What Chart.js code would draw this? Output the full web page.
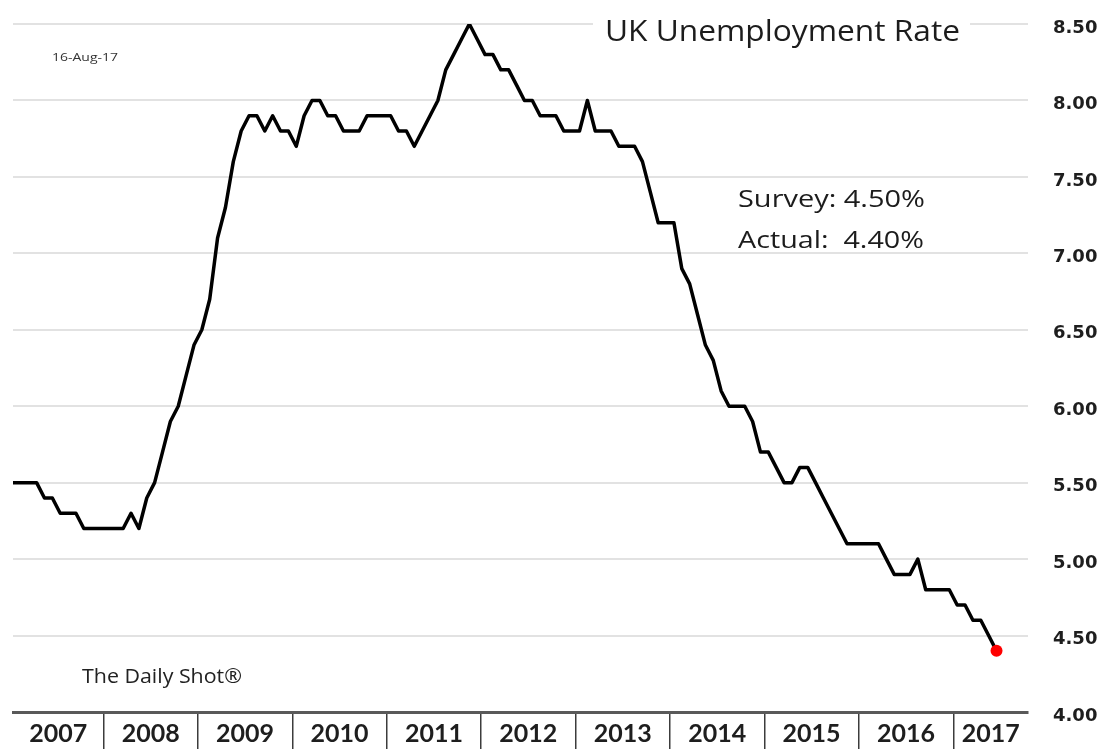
<!DOCTYPE html>
<html>
<head>
<meta charset="utf-8">
<title>UK Unemployment Rate</title>
<script src="https://cdn.jsdelivr.net/npm/chart.js@4.4.1/dist/chart.umd.min.js"></script>
<style>
  html, body { margin: 0; padding: 0; background: #ffffff; }
  #wrap { width: 1104px; height: 749px; }
</style>
</head>
<body>
<div id="wrap"><canvas id="chart" width="1104" height="749"></canvas></div>
<script>
// Year labels along the bottom axis
const years = ['2007', '2008', '2009', '2010', '2011', '2012', '2013', '2014', '2015', '2016', '2017'];

// ILO unemployment rate (%), monthly readings, Jan 2007 – Jun 2017
const rate2007 = [5.5, 5.5, 5.5, 5.5, 5.4, 5.4, 5.3, 5.3, 5.3, 5.2, 5.2, 5.2];
const rate2008 = [5.2, 5.2, 5.2, 5.3, 5.2, 5.4, 5.5, 5.7, 5.9, 6.0, 6.2, 6.4];
const rate2009 = [6.5, 6.7, 7.1, 7.3, 7.6, 7.8, 7.9, 7.9, 7.8, 7.9, 7.8, 7.8];
const rate2010 = [7.7, 7.9, 8.0, 8.0, 7.9, 7.9, 7.8, 7.8, 7.8, 7.9, 7.9, 7.9];
const rate2011 = [7.9, 7.8, 7.8, 7.7, 7.8, 7.9, 8.0, 8.2, 8.3, 8.4, 8.5, 8.4];
const rate2012 = [8.3, 8.3, 8.2, 8.2, 8.1, 8.0, 8.0, 7.9, 7.9, 7.9, 7.8, 7.8];
const rate2013 = [7.8, 8.0, 7.8, 7.8, 7.8, 7.7, 7.7, 7.7, 7.6, 7.4, 7.2, 7.2];
const rate2014 = [7.2, 6.9, 6.8, 6.6, 6.4, 6.3, 6.1, 6.0, 6.0, 6.0, 5.9, 5.7];
const rate2015 = [5.7, 5.6, 5.5, 5.5, 5.6, 5.6, 5.5, 5.4, 5.3, 5.2, 5.1, 5.1];
const rate2016 = [5.1, 5.1, 5.1, 5.0, 4.9, 4.9, 4.9, 5.0, 4.8, 4.8, 4.8, 4.8];
const rate2017 = [4.7, 4.7, 4.6, 4.6, 4.5, 4.4];

// Latest release
const surveyRate = 4.50;
const actualRate = 4.40;
const releaseDate = '16-Aug-17';

const monthly = [].concat(rate2007, rate2008, rate2009, rate2010, rate2011, rate2012,
                          rate2013, rate2014, rate2015, rate2016, rate2017);
const lastIndex = monthly.length - 1;

// Each reading sits in the middle of its month; months counted from Jan 2007
const points = monthly.map((v, i) => ({ x: i + 0.5, y: v }));

const X_MIN = 0.5;    // first reading
const X_MAX = 129.5;  // a few months of room after the last reading

// Year boundaries (separator marks) and the centre of each visible year block (labels)
const boundaries = years.slice(1).map((_, k) => 12 * (k + 1));
const labelSpots = years.map((_, k) => {
  const a = Math.max(X_MIN, 12 * k);
  const b = Math.min(X_MAX, 12 * (k + 1));
  return (a + b) / 2;
});
const boundarySet = new Set(boundaries);

// Text drawn onto the plot, squeezed or stretched to a given width
function fitText(ctx, text, x, baseline, font, width, color) {
  ctx.save();
  ctx.font = font;
  ctx.fillStyle = color;
  ctx.textBaseline = 'alphabetic';
  ctx.textAlign = 'left';
  const w = ctx.measureText(text).width;
  ctx.translate(x, baseline);
  ctx.scale(width / w, 1);
  ctx.fillText(text, 0, 0);
  ctx.restore();
}

const annotations = {
  id: 'annotations',
  afterDraw(chart) {
    const ctx = chart.ctx;
    // title box sits over the top gridline
    ctx.save();
    ctx.fillStyle = '#ffffff';
    ctx.fillRect(593, 8, 377, 44);
    ctx.restore();
    fitText(ctx, 'UK Unemployment Rate', 605, 41, '29px "Open Sans"', 355, '#1c1c1c');
    fitText(ctx, 'Survey: ' + surveyRate.toFixed(2) + '%', 738, 207, '24px "Open Sans"', 187, '#1c1c1c');
    fitText(ctx, 'Actual:  ' + actualRate.toFixed(2) + '%', 738, 248, '24px "Open Sans"', 186, '#1c1c1c');
    fitText(ctx, releaseDate, 52, 61, '11px "Open Sans"', 66, '#333333');
    fitText(ctx, 'The Daily Shot\u00AE', 82, 683, '20px "Open Sans"', 160, '#222222');
  }
};

new Chart(document.getElementById('chart'), {
  type: 'line',
  data: {
    datasets: [{
      label: 'UK Unemployment Rate',
      data: points,
      borderColor: '#000000',
      borderWidth: 3.5,
      tension: 0,
      borderJoinStyle: 'round',
      borderCapStyle: 'round',
      pointRadius: ctx => ctx.dataIndex === lastIndex ? 6 : 0,
      pointHoverRadius: ctx => ctx.dataIndex === lastIndex ? 6 : 0,
      pointBackgroundColor: '#ff0000',
      pointBorderWidth: 0,
      pointBorderColor: '#ff0000'
    }]
  },
  options: {
    responsive: false,
    devicePixelRatio: 1,
    animation: false,
    events: [],
    layout: { padding: { left: 13, right: 0, top: 24, bottom: 0 } },
    plugins: {
      legend: { display: false },
      tooltip: { enabled: false },
      title: { display: false }
    },
    scales: {
      x: {
        type: 'linear',
        min: X_MIN,
        max: X_MAX,
        afterBuildTicks: scale => {
          scale.ticks = boundaries.concat(labelSpots).sort((a, b) => a - b).map(v => ({ value: v }));
        },
        afterFit: scale => {
          scale.height = 37;
          scale.paddingLeft = 0;
          scale.paddingRight = 0;
        },
        grid: {
          drawOnChartArea: false,
          drawTicks: true,
          tickLength: 37,
          lineWidth: 1.5,
          color: c => (c.tick && boundarySet.has(c.tick.value)) ? '#3c3c3c' : 'rgba(0,0,0,0)'
        },
        border: { display: true, color: '#595959', width: 3 },
        ticks: {
          autoSkip: false,
          maxRotation: 0,
          minRotation: 0,
          padding: -27.5,
          color: '#1e1e1e',
          font: { family: 'Lato', weight: 'bold', size: 25, lineHeight: 1 },
          callback: value => {
            const k = labelSpots.indexOf(value);
            return k >= 0 ? years[k] : '';
          }
        }
      },
      y: {
        position: 'right',
        min: 4,
        max: 8.5,
        afterFit: scale => {
          scale.width = 76;
          scale.paddingTop = 0;
          scale.paddingBottom = 0;
        },
        grid: { color: '#e2e2e2', lineWidth: 2, drawTicks: false },
        border: { display: false },
        ticks: {
          stepSize: 0.5,
          padding: 25,
          labelOffset: 4,
          color: '#1e1e1e',
          font: { family: 'DejaVu Sans', weight: 'bold', size: 18 },
          callback: v => Number(v).toFixed(2)
        }
      }
    }
  },
  plugins: [annotations]
});
</script>
</body>
</html>
